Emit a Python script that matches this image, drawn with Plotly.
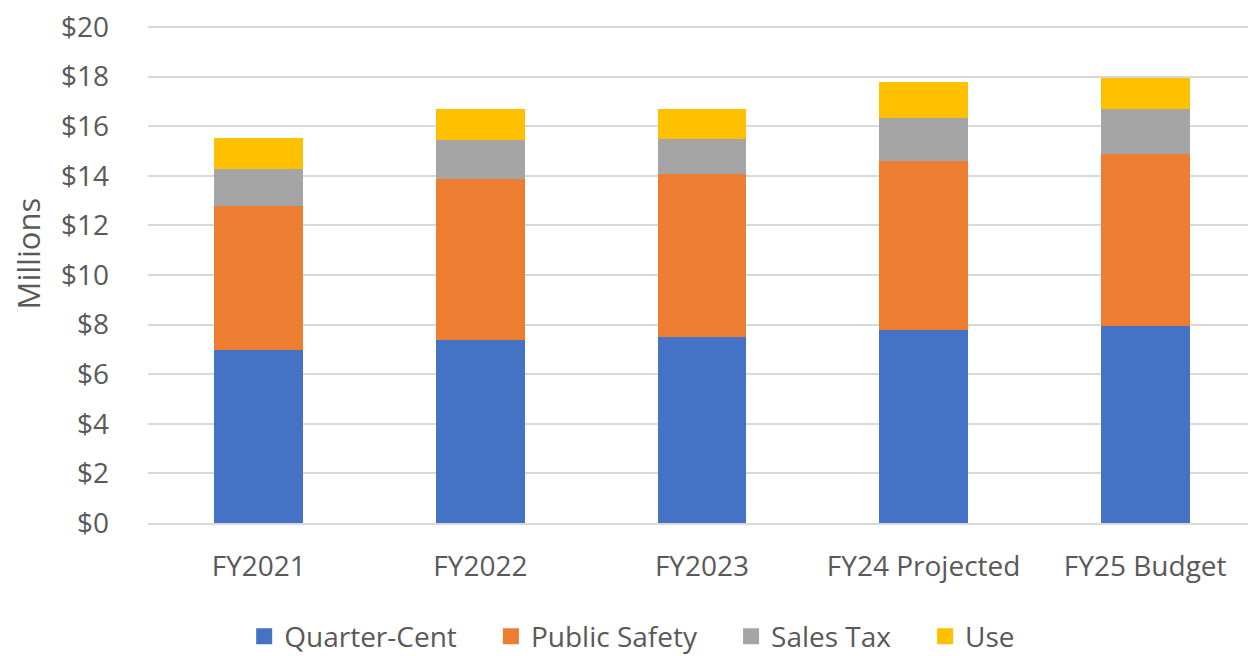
import plotly.graph_objects as go

categories = ["FY2021", "FY2022", "FY2023", "FY24 Projected", "FY25 Budget"]
quarter_cent = [6.96, 7.39, 7.49, 7.78, 7.94]
public_safety = [5.83, 6.47, 6.59, 6.80, 6.93]
sales_tax = [1.50, 1.60, 1.42, 1.76, 1.81]
use_tax = [1.25, 1.23, 1.19, 1.44, 1.28]

series = [
    ("Quarter-Cent", quarter_cent, "#4472C4"),
    ("Public Safety", public_safety, "#ED7D31"),
    ("Sales Tax", sales_tax, "#A5A5A5"),
    ("Use", use_tax, "#FFC000"),
]

FONT = "Open Sans"
TXT = "#595959"
PAD = "\u00a0" * 4
fig = go.Figure()
for name, vals, color in series:
    fig.add_trace(go.Bar(
        name=name, x=categories, y=vals,
        marker=dict(color=color, line=dict(width=0)),
        width=0.4, showlegend=False,
    ))
# legend entries with larger square swatches
for i, (name, vals, color) in enumerate(series):
    fig.add_trace(go.Scatter(
        name=name + (PAD if i < len(series) - 1 else ""), x=[None], y=[None], mode="markers",
        marker=dict(symbol="square", size=17, color=color),
        showlegend=True,
    ))

fig.update_layout(
    barmode="stack",
    width=1248, height=648,
    margin=dict(l=140, r=0, t=17, b=133),
    paper_bgcolor="white", plot_bgcolor="white",
    font=dict(family=FONT, size=28, color=TXT),
    legend=dict(orientation="h", x=0.437, xanchor="center", yref="container",
                y=0.03, yanchor="middle",
                font=dict(size=28, color=TXT), traceorder="normal",
                itemwidth=30, itemsizing="trace"),
    xaxis=dict(showgrid=False, showline=True, linecolor="#d9d9d9", linewidth=2,
               tickfont=dict(size=28, color=TXT), ticks="", ticklabelstandoff=17),
    yaxis=dict(range=[0, 20.08], tickvals=list(range(0, 21, 2)),
               ticktext=["$" + str(v) for v in range(0, 21, 2)], showgrid=True,
               gridcolor="#d9d9d9", gridwidth=2, zeroline=False,
               ticklabeloverflow="allow",
               tickfont=dict(size=28, color=TXT), ticklabelstandoff=38),
    annotations=[dict(text="Millions", textangle=-90, xref="paper", yref="paper",
                      x=-0.108, y=0.542, xanchor="center", yanchor="middle",
                      showarrow=False, font=dict(size=31, color=TXT))],
)

fig.write_html("out.html")
